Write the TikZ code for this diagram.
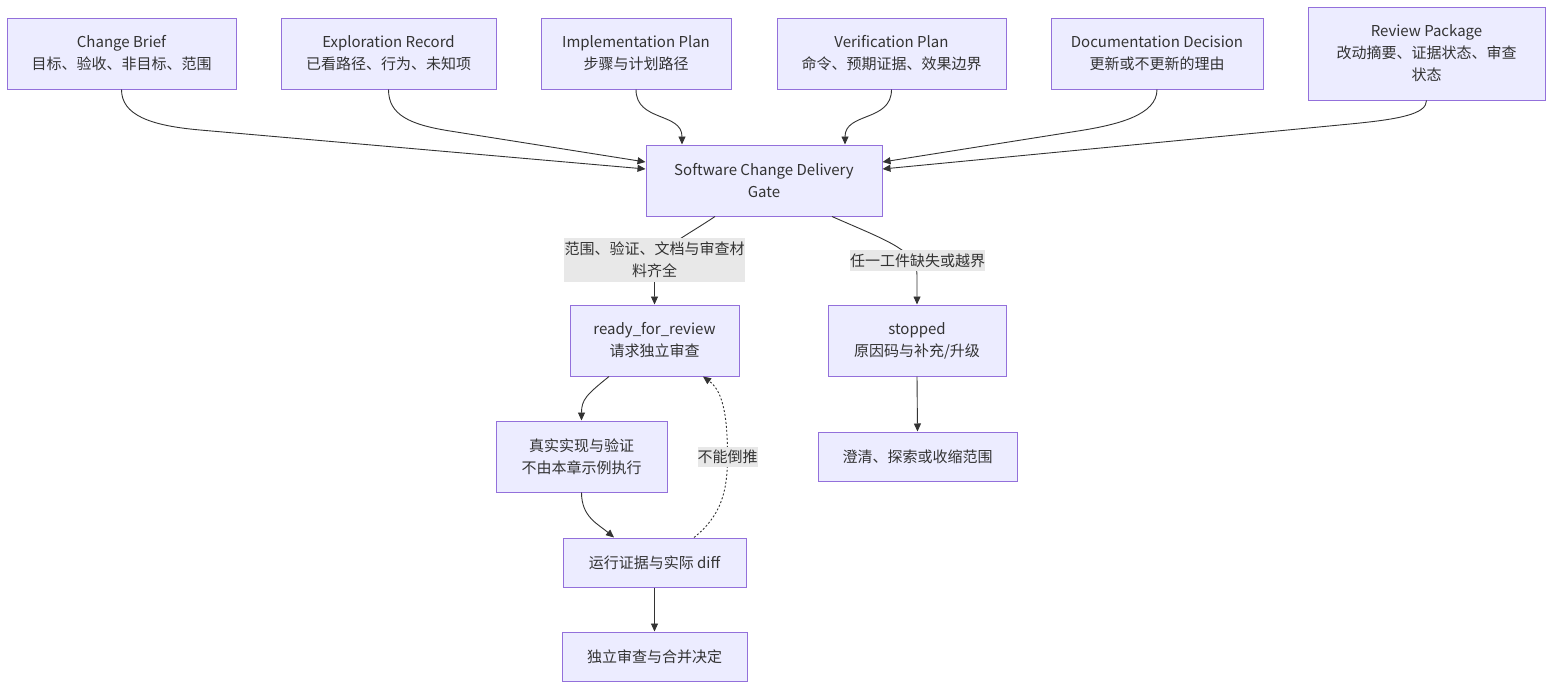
\documentclass[tikz,border=0pt]{standalone}
\usepackage{fontspec}
\setmainfont{Noto Sans CJK SC}
\usetikzlibrary{arrows.meta}
\definecolor{boxfill}{HTML}{ECECFF}
\definecolor{boxline}{HTML}{9370DB}
\definecolor{edgec}{HTML}{333333}
\definecolor{lblbg}{HTML}{E8E8E8}
\definecolor{textc}{HTML}{333333}
\begin{document}
\begin{tikzpicture}[x=1pt,y=-1pt,
  box/.style={draw=boxline,fill=boxfill,line width=1pt,align=center,inner sep=0pt,
    text=textc,font=\fontsize{15}{22}\selectfont},
  lbl/.style={fill=lblbg,align=center,inner sep=0pt,text=textc,font=\fontsize{15}{22}\selectfont},
  conn/.style={draw=edgec,line width=0.9pt,-{Triangle[length=8pt,width=7pt]}},
  dotconn/.style={conn,dash pattern=on 2pt off 2pt}]
\useasboundingbox[fill=white] (0,0) rectangle (1568,696);
% top row
\node[box,minimum width=229pt,minimum height=71pt] (cb) at (121.5,53.5) {Change Brief\\目标、验收、非目标、范围};
\node[box,minimum width=215pt,minimum height=71pt] (er) at (388.5,53.5) {Exploration Record\\已看路径、行为、未知项};
\node[box,minimum width=190pt,minimum height=71pt] (ip) at (636,53.5) {Implementation Plan\\步骤与计划路径};
\node[box,minimum width=229pt,minimum height=71pt] (vp) at (891.5,53.5) {Verification Plan\\命令、预期证据、效果边界};
\node[box,minimum width=212pt,minimum height=71pt] (dd) at (1157,53.5) {Documentation Decision\\更新或不更新的理由};
\node[box,minimum width=237pt,minimum height=93pt] (rp) at (1426.5,53.5) {Review Package\\改动摘要、证据状态、审查\\状态};
% gate
\node[box,minimum width=236pt,minimum height=71pt] (gate) at (764,180.5) {Software Change Delivery\\Gate};
% outcomes
\node[box,minimum width=169pt,minimum height=71pt] (ready) at (654.5,340.5) {ready\_for\_review\\请求独立审查};
\node[box,minimum width=178pt,minimum height=71pt] (stop) at (917,340.5) {stopped\\原因码与补充/升级};
\node[box,minimum width=171pt,minimum height=71pt] (real) at (581.5,456.5) {真实实现与验证\\不由本章示例执行};
\node[box,minimum width=199pt,minimum height=49pt] (clar) at (917.5,456.5) {澄清、探索或收缩范围};
\node[box,minimum width=183pt,minimum height=49pt] (run) at (654.5,562.5) {运行证据与实际 diff};
\node[box,minimum width=185pt,minimum height=49pt] (final) at (654.5,656.5) {独立审查与合并决定};
% edges into gate
\draw[conn] (cb.south) .. controls (121.5,115) and (150,125.6) .. (200,130) -- ([yshift=11.5pt]gate.west);
\draw[conn] (er.south) .. controls (388.5,115) and (410,124.7) .. (450,131) -- ([yshift=18.5pt]gate.west);
\draw[conn] (ip.south) .. controls (636,122) and (682,112) .. ([xshift=-82pt]gate.north);
\draw[conn] (vp.south) .. controls (891.5,122) and (845,112) .. ([xshift=81pt]gate.north);
\draw[conn] (dd.south) .. controls (1157,115) and (1118,124.7) .. (1078,131) -- ([yshift=18.5pt]gate.east);
\draw[conn] (rp.south) .. controls (1426.5,114) and (1400,119.2) .. (1350,124) -- ([yshift=11.5pt]gate.east);
% gate outputs
\draw[conn] ([xshift=-49pt]gate.south) .. controls (680,240) and (654.5,250) .. (654.5,272) -- (ready.north);
\draw[conn] ([xshift=68pt]gate.south) .. controls (885,240) and (917,250) .. (917,275) -- (stop.north);
\node[lbl,minimum width=181pt,minimum height=44pt] (l1) at (654.5,260) {范围、验证、文档与审查材\\料齐全};
\node[lbl,minimum width=131pt,minimum height=21pt] (l2) at (917.5,260.5) {任一工件缺失或越界};
% left chain
\draw[conn] ([xshift=-45.5pt]ready.south) .. controls (586,395) and (581.5,400) .. (real.north);
\draw[conn] (real.south) .. controls (581.5,517) and (598,524) .. ([xshift=-40.5pt]run.north);
\draw[dotconn] ([xshift=39.5pt]run.north) .. controls (722,515) and (727.5,490) .. (727.5,456.5) .. controls (727.5,420) and (724,392) .. ([xshift=48.5pt]ready.south);
\node[lbl,minimum width=59pt,minimum height=20pt] (l3) at (727.5,456.5) {不能倒推};
\draw[conn] (run.south) -- (final.north);
\draw[conn] (stop.south) -- (clar.north);
\end{tikzpicture}
\end{document}
